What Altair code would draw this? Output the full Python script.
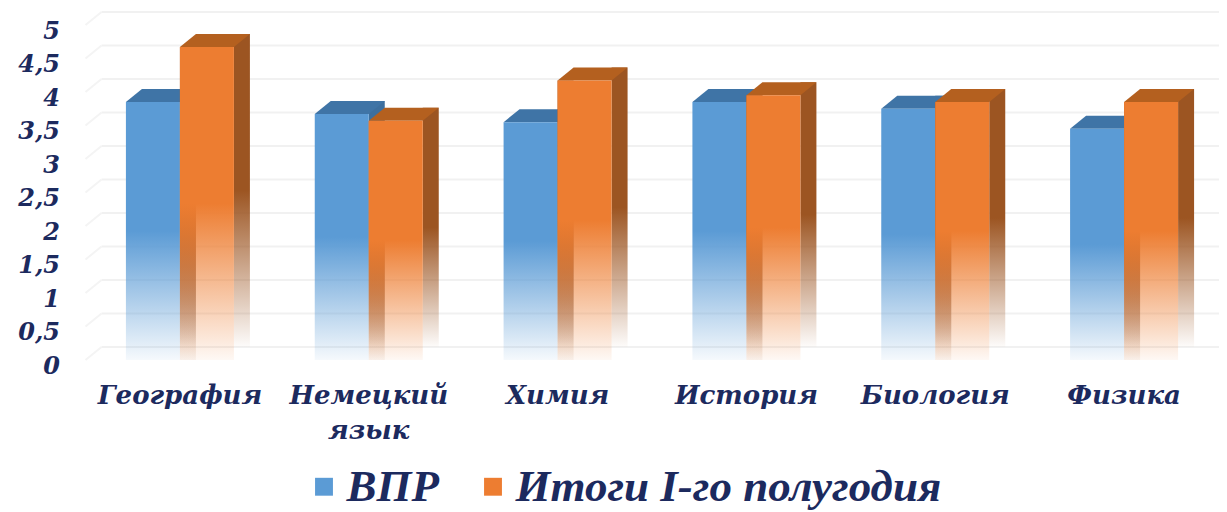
import altair as alt
import pandas as pd

categories = ["География", "Немецкий язык", "Химия", "История", "Биология", "Физика"]
vpr_values = [3.85, 3.67, 3.55, 3.85, 3.75, 3.45]
itogi_values = [4.67, 3.57, 4.17, 3.95, 3.85, 3.85]
series_names = ["ВПР", "Итоги I-го полугодия"]
grid_values = [0, 0.5, 1, 1.5, 2, 2.5, 3, 3.5, 4, 4.5, 5]

NAVY = "#1c2a5e"
FONT = "DejaVu Serif"
LEGEND_FONT = "Liberation Serif"
W, H = 1133, 335
BAR = 54
DX, DY = 16, 13

vpr = pd.DataFrame({"cat": categories, "v": vpr_values})
itogi = pd.DataFrame({"cat": categories, "v": itogi_values})
grid = pd.DataFrame({"g": grid_values})
legend_df = pd.DataFrame({"cat": [categories[0]] * 2, "s": series_names})

y_axis = alt.Axis(domain=False, ticks=False, grid=False, values=grid_values,
                  labelFont=FONT, labelFontSize=24, labelFontWeight="bold",
                  labelFontStyle="italic", labelColor=NAVY, labelPadding=26,
                  labelOffset=6,
                  labelExpr="replace(format(datum.value,'.1~f'),'.',',')")
y_scale = alt.Scale(domain=[0, 5], nice=False)

x_enc = alt.X("cat:N", sort=categories, title=None,
              scale=alt.Scale(paddingInner=0, paddingOuter=0),
              axis=alt.Axis(domain=False, ticks=False, grid=False, labelAngle=0,
                            labelFont=FONT, labelFontSize=26, labelFontWeight="bold",
                            labelFontStyle="italic", labelColor=NAVY, labelPadding=22,
                            labelLineHeight=35, labelLimit=400,
                            labelExpr="datum.label == 'Немецкий язык' ? ['Немецкий','язык'] : datum.label"))
y_enc = alt.Y("v:Q", title=None, scale=y_scale, axis=y_axis)


def grad(color, end):
    return alt.Gradient(gradient="linear", x1=0, x2=0, y1=0, y2=1,
                        stops=[alt.GradientStop(offset=0, color=color),
                               alt.GradientStop(offset=0.5, color=color),
                               alt.GradientStop(offset=1, color=end)])


def bar_layers(df, offset, front, front_end, top, side, side_end):
    r = offset + BAR / 2
    base = alt.Chart(df)
    side_l = base.mark_bar(width=DX, xOffset=r + DX / 2, yOffset=-DY,
                           color=grad(side, side_end)).encode(x=x_enc, y=y_enc)
    top_l = base.mark_point(filled=True, opacity=1, size=4, fill=top, strokeWidth=0,
                            xOffset=offset,
                            shape=f"M {-BAR/2} 0 L {-BAR/2+DX} {-DY} L {BAR/2+DX} {-DY} L {BAR/2} 0 Z"
                            ).encode(x=x_enc, y=y_enc)
    front_l = base.mark_bar(width=BAR, xOffset=offset,
                            color=grad(front, front_end)).encode(x=x_enc, y=y_enc)
    return side_l, top_l, front_l


grid_rules = alt.Chart(grid).mark_rule(color="#f1f1f1", strokeWidth=2, yOffset=-DY).encode(
    x=alt.value(DX), x2=alt.value(W + 8),
    y=alt.Y("g:Q", title=None, scale=y_scale, axis=y_axis))
grid_slant = alt.Chart(grid).mark_point(filled=False, stroke="#f4f4f4", strokeWidth=2, size=4, opacity=1,
                                        shape=f"M 0 0 L {DX} {-DY}").encode(
    x=alt.value(0),
    y=alt.Y("g:Q", title=None, scale=y_scale, axis=y_axis))

b_side, b_top, b_front = bar_layers(vpr, -BAR / 2, "#5b9bd5", "rgba(91,155,213,0.06)",
                                    "#3f74a6", "#3d6f9e", "rgba(61,111,158,0)")
o_side, o_top, o_front = bar_layers(itogi, BAR / 2, "#ed7d31", "rgba(237,125,49,0.05)",
                                    "#b4601f", "#9c5522", "rgba(156,85,34,0.02)")
strip = alt.Chart(itogi).mark_bar(width=DX, xOffset=DX / 2,
                                  color=grad("#9c5522", "rgba(156,85,34,0.05)")).encode(x=x_enc, y=y_enc)

legend_layer = alt.Chart(legend_df).mark_point(filled=True, opacity=0).encode(
    x=alt.X("cat:N", sort=categories, title=None),
    color=alt.Color("s:N", scale=alt.Scale(domain=series_names, range=["#5b9bd5", "#ed7d31"]),
                    legend=alt.Legend(orient="none", legendX=216, legendY=439, direction="horizontal",
                                      title=None, symbolType="square", symbolSize=320,
                                      symbolOpacity=1, symbolStrokeWidth=0,
                                      labelFont=LEGEND_FONT, labelFontSize=45, labelFontStyle="italic",
                                      labelFontWeight="bold", labelColor=NAVY, labelLimit=700,
                                      columnPadding=31, labelOffset=0)))

chart = alt.layer(grid_rules, grid_slant, b_side, b_top, b_front, strip, o_side, o_top, o_front,
                  legend_layer).properties(
    width=W, height=H,
    padding={"left": 77.5, "top": 17, "right": 0, "bottom": 151},
    autosize=alt.AutoSizeParams(type="none"),
    background="white",
).configure_view(stroke=None)

chart.save("out.html", embed_options={"renderer": "svg", "actions": False})
